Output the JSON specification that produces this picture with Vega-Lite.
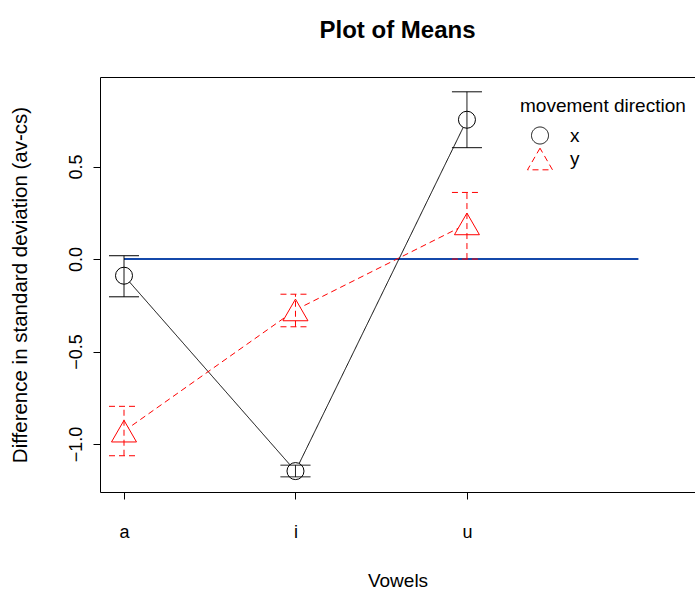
{
  "$schema": "https://vega.github.io/schema/vega-lite/v6.json",
  "width": 595,
  "height": 415,
  "autosize": {"type": "none"},
  "padding": {"left": 100, "top": 77, "right": 0, "bottom": 98},
  "background": "white",
  "config": {
    "font": "Liberation Sans",
    "view": {"stroke": "black", "strokeWidth": 1},
    "axis": {"grid": false, "domain": false, "tickColor": "black", "tickSize": 7, "labelColor": "black", "titleColor": "black", "labelFont": "Liberation Sans", "titleFont": "Liberation Sans", "titleFontWeight": "normal"}
  },
  "title": {"text": "Plot of Means", "fontSize": 24, "fontWeight": "bold", "font": "Liberation Sans", "color": "black", "frame": "group", "anchor": "middle", "offset": 34},
  "data": {"values": [
    {"v": 1, "dir": "x", "mean": -0.09, "lo": -0.204, "hi": 0.018},
    {"v": 2, "dir": "x", "mean": -1.146, "lo": -1.177, "hi": -1.114},
    {"v": 3, "dir": "x", "mean": 0.753, "lo": 0.602, "hi": 0.904},
    {"v": 1, "dir": "y", "mean": -0.93, "lo": -1.063, "hi": -0.796},
    {"v": 2, "dir": "y", "mean": -0.275, "lo": -0.366, "hi": -0.19},
    {"v": 3, "dir": "y", "mean": 0.19, "lo": 0.0, "hi": 0.36}
  ]},
  "encoding": {
    "x": {"field": "v", "type": "quantitative", "title": "Vowels",
      "scale": {"domain": [0.86, 4.33], "nice": false, "zero": false},
      "axis": {"values": [1, 2, 3], "labelExpr": "datum.value == 1 ? 'a' : datum.value == 2 ? 'i' : 'u'", "labelFontSize": 18, "labelPadding": 24, "titleFontSize": 19, "titlePadding": 30}}
  },
  "layer": [
    {
      "data": {"values": [{"v": 1, "v2": 4, "mean": 0}]},
      "mark": {"type": "rule", "color": "#1448aa", "strokeWidth": 2},
      "encoding": {
        "x2": {"field": "v2"},
        "y": {"field": "mean", "type": "quantitative", "title": "Difference in standard deviation (av-cs)",
          "scale": {"domain": [-1.259, 0.984], "nice": false, "zero": false},
          "axis": {"values": [-1, -0.5, 0, 0.5], "format": ".1f", "labelAngle": -90, "labelFontSize": 18, "labelPadding": 8, "titleFontSize": 20.5, "titlePadding": 37}}
      }
    },
    {
      "mark": {"type": "line", "strokeWidth": 1},
      "encoding": {
        "y": {"field": "mean", "type": "quantitative", "title": "Difference in standard deviation (av-cs)"},
        "color": {"field": "dir", "type": "nominal", "scale": {"domain": ["x", "y"], "range": ["black", "red"]},
          "legend": {"orient": "none", "legendX": 420, "legendY": 20, "title": "movement direction", "titleFontSize": 19, "titleFont": "Liberation Sans", "titleFontWeight": "normal", "titleColor": "black", "titlePadding": 10,
            "labelFontSize": 19, "labelFont": "Liberation Sans", "labelColor": "black", "rowPadding": -11, "symbolOffset": 7, "labelOffset": 17, "symbolStrokeWidth": 1}},
        "strokeDash": {"field": "dir", "type": "nominal", "scale": {"domain": ["x", "y"], "range": [[1, 0], [6, 4]]}, "legend": null}
      }
    },
    {
      "mark": {"type": "point", "filled": false, "fill": "white", "fillOpacity": 1, "opacity": 1, "strokeWidth": 1},
      "encoding": {
        "y": {"field": "mean", "type": "quantitative", "title": "Difference in standard deviation (av-cs)"},
        "color": {"field": "dir", "type": "nominal"},
        "shape": {"field": "dir", "type": "nominal", "scale": {"domain": ["x", "y"], "range": ["circle", "triangle-up"]}, "legend": null},
        "size": {"field": "dir", "type": "nominal", "scale": {"domain": ["x", "y"], "range": [289, 625]}, "legend": null}
      }
    },
    {
      "mark": {"type": "rule", "strokeWidth": 1},
      "encoding": {
        "y": {"field": "lo", "type": "quantitative", "title": "Difference in standard deviation (av-cs)"},
        "y2": {"field": "hi"},
        "color": {"field": "dir", "type": "nominal"},
        "strokeDash": {"field": "dir", "type": "nominal", "legend": null}
      }
    },
    {
      "mark": {"type": "rule", "strokeWidth": 1, "xOffset": -15, "x2Offset": 15},
      "encoding": {
        "x2": {"field": "v"},
        "y": {"field": "hi", "type": "quantitative", "title": "Difference in standard deviation (av-cs)"},
        "color": {"field": "dir", "type": "nominal"},
        "strokeDash": {"field": "dir", "type": "nominal", "legend": null}
      }
    },
    {
      "mark": {"type": "rule", "strokeWidth": 1, "xOffset": -15, "x2Offset": 15},
      "encoding": {
        "x2": {"field": "v"},
        "y": {"field": "lo", "type": "quantitative", "title": "Difference in standard deviation (av-cs)"},
        "color": {"field": "dir", "type": "nominal"},
        "strokeDash": {"field": "dir", "type": "nominal", "legend": null}
      }
    }
  ]
}
